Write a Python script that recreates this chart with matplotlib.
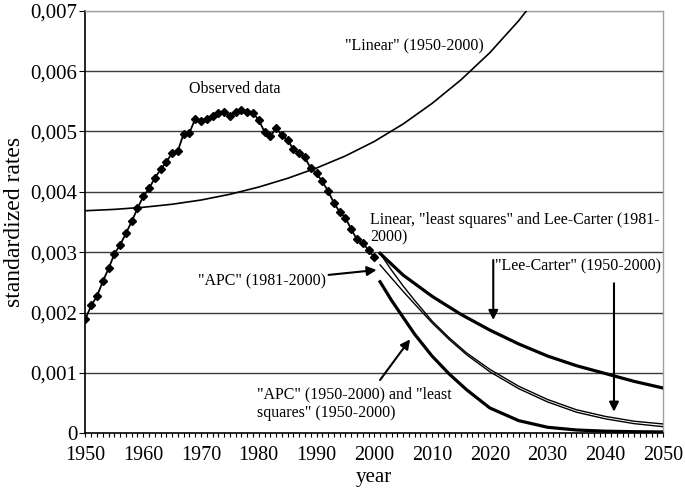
# Standardized rates: observed data and projections to 2050

import numpy as np
import matplotlib.pyplot as plt
from matplotlib.ticker import FixedLocator, FixedFormatter, MultipleLocator

plt.rcParams['font.family'] = ['Liberation Serif', 'DejaVu Serif']

# observed data 1950-2000 (rates x 1000)
obs_years = list(range(1950, 2001))
obs_vals = [1.897, 2.119, 2.273, 2.516, 2.731, 2.969, 3.123, 3.311, 3.509, 3.725,
            3.923, 4.056, 4.227, 4.370, 4.492, 4.646, 4.679, 4.966, 4.978, 5.209,
            5.176, 5.198, 5.264, 5.308, 5.325, 5.264, 5.314, 5.353, 5.325, 5.308,
            5.187, 4.994, 4.922, 5.049, 4.939, 4.856, 4.702, 4.646, 4.569, 4.387,
            4.305, 4.172, 4.012, 3.818, 3.669, 3.570, 3.382, 3.212, 3.156, 3.035,
            2.914]

# "Linear" (1950-2000) fit
lin_years = [1950, 1955, 1960, 1965, 1970, 1975, 1980, 1985, 1990, 1995,
             2000, 2005, 2010, 2015, 2020, 2025, 2028]
lin_vals = [3.687, 3.709, 3.744, 3.794, 3.864, 3.959, 4.079, 4.224, 4.394, 4.594,
            4.834, 5.124, 5.464, 5.854, 6.304, 6.834, 7.20]

# projections 2001-2050
lc_years = [2001, 2005, 2010, 2015, 2020, 2025, 2030, 2035, 2040, 2045, 2050]
lc_vals = [2.98, 2.62, 2.27, 1.97, 1.71, 1.48, 1.28, 1.12, 0.99, 0.86, 0.75]

proj_years = [2001, 2003, 2005, 2007, 2010, 2013, 2016, 2020, 2025, 2030,
              2035, 2040, 2045, 2050]
ls81_vals = [2.98, 2.70, 2.44, 2.20, 1.86, 1.58, 1.33, 1.06, 0.78, 0.56,
             0.39, 0.28, 0.20, 0.155]
apc81_vals = [2.79, 2.57, 2.35, 2.14, 1.83, 1.55, 1.30, 1.02, 0.74, 0.52,
              0.35, 0.24, 0.16, 0.11]
apc50_vals = [2.51, 2.20, 1.92, 1.64, 1.28, 0.98, 0.72, 0.42, 0.21, 0.10,
              0.055, 0.035, 0.027, 0.022]

y_ticks = [0, 0.001, 0.002, 0.003, 0.004, 0.005, 0.006, 0.007]
y_labels = ['0', '0,001', '0,002', '0,003', '0,004', '0,005', '0,006', '0,007']
x_ticks = list(range(1950, 2051, 10))

fig = plt.figure(figsize=(6.85, 4.91), dpi=100)
ax = fig.add_axes([0.1248, 0.1175, 0.8432, 0.8607])

for v in y_ticks[1:-1]:
    ax.axhline(v, color='#3a3a3a', lw=1.0, zorder=1)
ax.axhline(0.007, color='#a0a0a0', lw=1.0, zorder=1)

k = 1e-3
ax.plot(lin_years, np.array(lin_vals) * k, color='black', lw=1.2, zorder=3)
ax.plot(obs_years, np.array(obs_vals) * k, color='black', lw=1.3,
        marker='D', markersize=4.5, zorder=4)
ax.plot(lc_years, np.array(lc_vals) * k, color='black', lw=2.3, zorder=3)
ax.plot(proj_years, np.array(ls81_vals) * k, color='black', lw=1.0, zorder=3)
ax.plot(proj_years, np.array(apc81_vals) * k, color='black', lw=1.0, zorder=3)
ax.plot(proj_years, np.array(apc50_vals) * k, color='black', lw=2.3, zorder=3)

ax.set_xlim(1950, 2050)
ax.set_ylim(0, 0.007)
ax.xaxis.set_major_locator(FixedLocator(x_ticks))
ax.xaxis.set_minor_locator(MultipleLocator(1))
ax.yaxis.set_major_locator(FixedLocator(y_ticks))
ax.yaxis.set_major_formatter(FixedFormatter(y_labels))
ax.tick_params(axis='x', which='both', direction='out', length=3, width=0.8,
               labelsize=14.5, pad=6)
ax.tick_params(axis='y', direction='out', length=4, width=0.8, labelsize=15, pad=2)

for s in ['left', 'bottom']:
    ax.spines[s].set_linewidth(1.2)
for s in ['top', 'right']:
    ax.spines[s].set_color('#a0a0a0')
    ax.spines[s].set_linewidth(1.0)

ax.set_xlabel('year', fontsize=15)
ax.xaxis.set_label_coords(0.5, -0.082)
ax.set_ylabel('standardized rates', fontsize=17)
ax.yaxis.set_label_coords(-0.104, 0.5)

fs = 11.5
ax.text(1975.9, 0.00570, 'Observed data', fontsize=fs, ha='center', va='center')
ax.text(2007.0, 0.006415, '"Linear" (1950-2000)', fontsize=fs, ha='center', va='center')
ax.text(1999.3, 0.003387, 'Linear, "least squares" and Lee-Carter (1981-\n2000)',
        fontsize=fs, ha='left', va='center', linespacing=1.15)
ax.text(2020.9, 0.00276, '"Lee-Carter" (1950-2000)', fontsize=fs, ha='left', va='center')
ax.text(1979.75, 0.000489, '"APC" (1950-2000) and "least\nsquares" (1950-2000)',
        fontsize=fs, ha='left', va='center', linespacing=1.15)

arrow = dict(arrowstyle='-|>', color='black', lw=1.5, mutation_scale=14,
             shrinkA=0, shrinkB=0)
ax.annotate('"APC" (1981-2000)', xy=(2000.4, 0.002705), xytext=(1991.6, 0.002511),
            fontsize=fs, ha='right', va='center', arrowprops=arrow)
ax.annotate('', xy=(2006.2, 0.001557), xytext=(2001.0, 0.000883), arrowprops=arrow)
ax.annotate('', xy=(2020.6, 0.001877), xytext=(2020.6, 0.00287), arrowprops=arrow)
ax.annotate('', xy=(2041.5, 0.000358), xytext=(2041.5, 0.002485), arrowprops=arrow)

fig.savefig('out.png', dpi=100)
